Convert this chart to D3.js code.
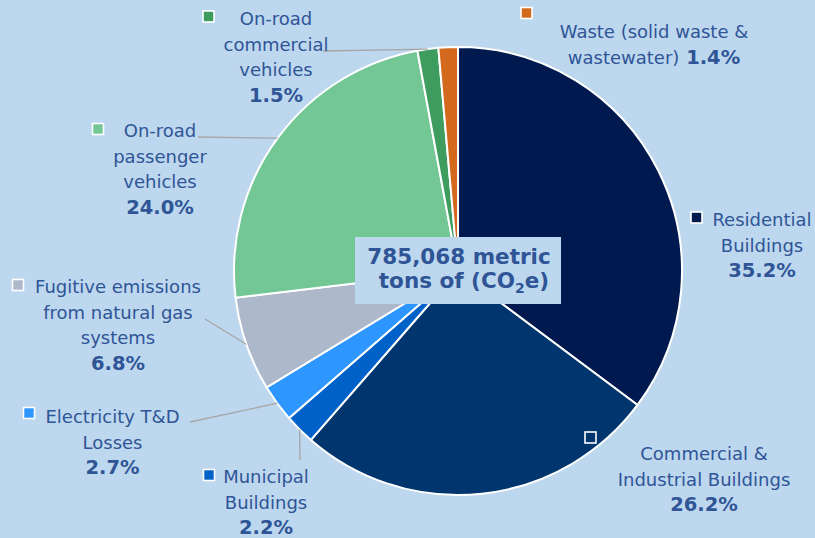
<!DOCTYPE html>
<html>
<head>
<meta charset="utf-8">
<script src="https://cdn.jsdelivr.net/npm/d3@7"></script>
<style>
  body { margin: 0; background: #BDD7EE; }
  svg { display: block; }
</style>
</head>
<body>
<div id="chart"></div>
<script>
// data
var categories = [
  "Residential\nBuildings",
  "Commercial &\nIndustrial Buildings",
  "Municipal\nBuildings",
  "Electricity T&D\nLosses",
  "Fugitive emissions\nfrom natural gas\nsystems",
  "On-road\npassenger\nvehicles",
  "On-road\ncommercial\nvehicles",
  "Waste (solid waste &\nwastewater)"
];
var shares = [35.2, 26.2, 2.2, 2.7, 6.8, 24.0, 1.5, 1.4];
var colors = ["#001A50", "#00356E", "#0062C8", "#2E96FF", "#ADB8CA", "#72C794", "#3E9C5F", "#D2691C"];
var totalTons = 785068;

// label placement: text centre x, first baseline, legend square, leader start
var layout = [
  { x: 762, y: 226, sq: [691, 212], lead: null },
  { x: 704, y: 460, sq: [585, 432], lead: null },
  { x: 266, y: 483, sq: [203.5, 469.5], lead: [300, 460] },
  { x: 112.5, y: 423, sq: [23.5, 407.5], lead: [190, 422] },
  { x: 118, y: 293, sq: [12.5, 279.5], lead: [205, 319] },
  { x: 160, y: 137, sq: [92.5, 123.5], lead: [198, 137] },
  { x: 276, y: 25, sq: [203, 11], lead: [323, 51] },
  { x: 654, y: 38, sq: [521, 7.5], lead: null, inline: true }
];

var width = 815, height = 538;
var cx = 458, cy = 271, radius = 224;
var lineH = 25.6;
var textColor = "#2F5597";
var font = "'DejaVu Sans', Verdana, sans-serif";

var svg = d3.select("#chart").append("svg")
  .attr("width", width)
  .attr("height", height);

svg.append("rect").attr("width", width).attr("height", height).attr("fill", "#BDD7EE");

var pie = d3.pie().sort(null).value(function(d) { return d; });
var arcs = pie(shares);
var arc = d3.arc().innerRadius(0).outerRadius(radius);
var edge = d3.arc().innerRadius(radius).outerRadius(radius);

var g = svg.append("g").attr("transform", "translate(" + cx + "," + cy + ")");

g.selectAll("path.slice").data(arcs)
  .enter().append("path")
  .attr("class", "slice")
  .attr("d", arc)
  .attr("fill", function(d, i) { return colors[i]; })
  .attr("stroke", "#fff")
  .attr("stroke-width", 2);

// leader lines from label to slice middle on the rim
arcs.forEach(function(d, i) {
  var L = layout[i];
  if (!L.lead) return;
  var p = edge.centroid(d);
  svg.append("line")
    .attr("x1", L.lead[0]).attr("y1", L.lead[1])
    .attr("x2", cx + p[0]).attr("y2", cy + p[1])
    .attr("stroke", "#A6A6A6")
    .attr("stroke-width", 1.3);
});

// labels
categories.forEach(function(name, i) {
  var L = layout[i];
  var lines = name.split("\n");
  var pct = d3.format(".1f")(shares[i]) + "%";

  svg.append("rect")
    .attr("x", L.sq[0]).attr("y", L.sq[1])
    .attr("width", 11).attr("height", 11)
    .attr("fill", colors[i])
    .attr("stroke", "#fff")
    .attr("stroke-width", 1.6);

  var t = svg.append("text")
    .attr("text-anchor", "middle")
    .attr("font-family", font)
    .attr("font-size", 18)
    .attr("fill", textColor);

  lines.forEach(function(ln, k) {
    t.append("tspan").attr("x", L.x).attr("y", L.y + k * lineH).text(ln);
  });
  if (L.inline) {
    t.append("tspan").attr("font-weight", "bold").attr("font-size", 19.5).text(" " + pct);
  } else {
    t.append("tspan")
      .attr("x", L.x).attr("y", L.y + lines.length * lineH)
      .attr("font-weight", "bold").attr("font-size", 19.5)
      .text(pct);
  }
});

// centre box
svg.append("rect")
  .attr("x", 355).attr("y", 237)
  .attr("width", 206).attr("height", 67)
  .attr("fill", "#BDD7EE");

var ct = svg.append("text")
  .attr("text-anchor", "middle")
  .attr("font-family", font)
  .attr("font-weight", "bold")
  .attr("font-size", 21.5)
  .attr("fill", textColor);
ct.append("tspan").attr("x", 459).attr("y", 264).text(d3.format(",")(totalTons) + " metric");
var l2 = ct.append("tspan").attr("x", 464).attr("y", 288);
l2.append("tspan").text("tons of (CO");
l2.append("tspan").attr("font-size", 14).attr("dy", 5).text("2");
l2.append("tspan").attr("dy", -5).text("e)");
</script>
</body>
</html>
